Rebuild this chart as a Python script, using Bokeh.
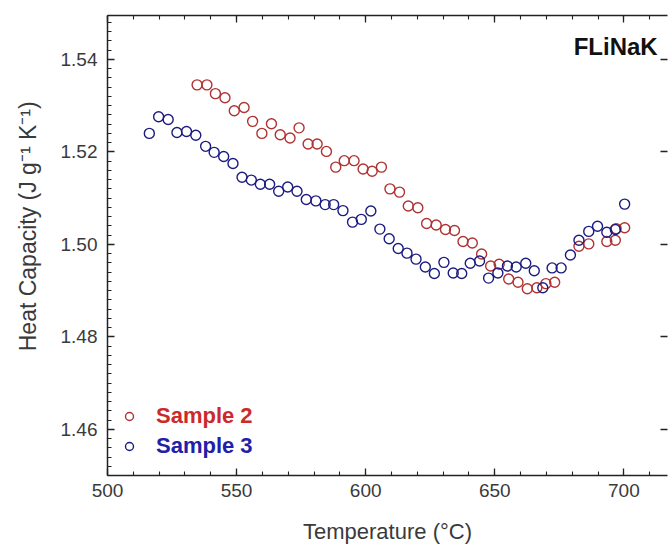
from bokeh.plotting import figure
from bokeh.models import (Range1d, LinearAxis, Label, Legend, LegendItem,
                          SingleIntervalTicker, PrintfTickFormatter)
from bokeh.embed import file_html
from bokeh.resources import INLINE

# ---- data ----
temp_s2 = [534.7, 538.5, 541.8, 545.5, 549.1, 552.9, 556.2, 559.8, 563.5, 566.9,
           570.7, 574.2, 577.7, 581.2, 584.8, 588.4, 591.7, 595.5, 599.0, 602.5,
           606.1, 609.4, 613.1, 616.5, 620.2, 623.6, 627.3, 630.9, 634.4, 637.7,
           641.3, 644.9, 648.4, 651.7, 655.4, 659.0, 662.6, 666.3, 669.8, 673.2,
           682.6, 686.4, 693.4, 696.7, 697.0, 700.3]
cp_s2 = [1.5345, 1.5345, 1.5326, 1.5317, 1.5289, 1.5296, 1.5266, 1.5240, 1.5261, 1.5237,
         1.5230, 1.5252, 1.5217, 1.5217, 1.5201, 1.5167, 1.5181, 1.5181, 1.5163, 1.5158,
         1.5167, 1.5120, 1.5113, 1.5083, 1.5079, 1.5045, 1.5042, 1.5032, 1.5030, 1.5006,
         1.5003, 1.4979, 1.4953, 1.4957, 1.4925, 1.4918, 1.4904, 1.4906, 1.4915, 1.4918,
         1.4996, 1.5001, 1.5006, 1.5009, 1.5034, 1.5036]

temp_s3 = [516.2, 519.8, 523.5, 526.9, 530.6, 534.2, 538.0, 541.3, 545.0, 548.6,
           552.1, 555.7, 559.2, 562.8, 566.3, 569.8, 573.4, 577.0, 580.7, 584.3,
           587.6, 591.2, 594.9, 598.3, 602.0, 605.5, 609.1, 612.6, 616.0, 619.5,
           623.1, 626.6, 630.3, 633.9, 637.2, 640.5, 644.1, 647.6, 651.2, 654.9,
           658.3, 662.0, 665.3, 668.6, 672.2, 675.7, 679.3, 682.6, 686.4, 689.8,
           693.4, 696.7, 700.3]
cp_s3 = [1.5240, 1.5276, 1.5270, 1.5242, 1.5244, 1.5236, 1.5212, 1.5199, 1.5190, 1.5175,
         1.5145, 1.5139, 1.5130, 1.5130, 1.5115, 1.5124, 1.5115, 1.5097, 1.5094, 1.5086,
         1.5086, 1.5073, 1.5048, 1.5054, 1.5072, 1.5033, 1.5012, 1.4991, 1.4981, 1.4968,
         1.4951, 1.4937, 1.4961, 1.4938, 1.4937, 1.4959, 1.4964, 1.4927, 1.4938, 1.4953,
         1.4951, 1.4959, 1.4943, 1.4906, 1.4949, 1.4949, 1.4977, 1.5009, 1.5028, 1.5039,
         1.5026, 1.5032, 1.5087]

series_names = ["Sample 2", "Sample 3"]
x_label = "Temperature (°C)"
y_label = "Heat Capacity (J g⁻¹ K⁻¹)"
title_text = "FLiNaK"

RED_M = "#b03232"
BLUE_M = "#1c1c80"
RED_T = "#cc2a2a"
BLUE_T = "#2020a8"
AX = "#222222"
TXT = "#3a3a3a"
FONT = "Liberation Sans"

p = figure(width=671, height=546, output_backend="svg", toolbar_location=None,
           x_range=Range1d(500, 716.9), y_range=Range1d(1.45, 1.5495),
           x_axis_location=None, y_axis_location=None,
           min_border_left=107, min_border_right=0, min_border_top=15, min_border_bottom=70)
p.outline_line_color = None
p.grid.visible = False
p.background_fill_color = "white"
p.border_fill_color = "white"


def style_axis(ax, labels=True, line=True, minor=True):
    ax.axis_line_color = AX if line else None
    ax.axis_line_width = 1.5
    ax.major_tick_line_color = AX
    ax.major_tick_line_width = 1.3
    ax.major_tick_in = 7
    ax.major_tick_out = 0
    if minor:
        ax.minor_tick_line_color = AX
        ax.minor_tick_line_width = 1.1
        ax.minor_tick_in = 4
        ax.minor_tick_out = 0
    else:
        ax.minor_tick_line_color = None
    if labels:
        ax.major_label_text_font = FONT
        ax.major_label_text_font_size = "19px"
        ax.major_label_text_color = TXT
    else:
        ax.major_label_text_font_size = "1px"
        ax.major_label_text_color = None
        ax.major_label_standoff = 0


xb = LinearAxis(ticker=SingleIntervalTicker(interval=50, num_minor_ticks=5))
style_axis(xb)
xb.major_label_standoff = 8
xb.axis_label = x_label
xb.axis_label_text_font = FONT
xb.axis_label_text_font_style = "normal"
xb.axis_label_text_font_size = "22px"
xb.axis_label_text_color = TXT
xb.axis_label_standoff = 19
p.add_layout(xb, "below")

xt = LinearAxis(ticker=SingleIntervalTicker(interval=50, num_minor_ticks=5))
style_axis(xt, labels=False)
p.add_layout(xt, "above")

yl = LinearAxis(ticker=SingleIntervalTicker(interval=0.02, num_minor_ticks=10),
                formatter=PrintfTickFormatter(format="%.2f"))
style_axis(yl)
yl.major_label_standoff = 10
yl.axis_label = "\u00a0" * 6 + y_label
yl.axis_label_text_font = FONT
yl.axis_label_text_font_style = "normal"
yl.axis_label_text_font_size = "23px"
yl.axis_label_text_color = TXT
yl.axis_label_standoff = 17
p.add_layout(yl, "left")

yr = LinearAxis(ticker=SingleIntervalTicker(interval=0.02, num_minor_ticks=10))
style_axis(yr, labels=False, line=False, minor=False)
p.add_layout(yr, "right")

r2 = p.scatter(temp_s2, cp_s2, marker="circle", size=10, fill_color=None,
               line_color=RED_M, line_width=1.4)
r3 = p.scatter(temp_s3, cp_s3, marker="circle", size=10, fill_color=None,
               line_color=BLUE_M, line_width=1.4)

for name, rend, col, loc in [(series_names[0], r2, RED_T, (12, 46)),
                             (series_names[1], r3, BLUE_T, (12, 16))]:
    leg = Legend(items=[LegendItem(label=name, renderers=[rend])], location=loc,
                 padding=0, margin=0, spacing=0, glyph_width=20, glyph_height=20,
                 label_standoff=17, label_height=20,
                 label_text_font=FONT, label_text_font_style="bold",
                 label_text_font_size="22px", label_text_color=col,
                 border_line_color=None, background_fill_alpha=0)
    p.add_layout(leg)

p.add_layout(Label(x=713.1, y=1.5427, text=title_text, text_align="right",
                   text_baseline="alphabetic", text_font=FONT, text_font_style="bold",
                   text_font_size="24px", text_color="#111111"))

open("out.html", "w").write(file_html(p, INLINE))
